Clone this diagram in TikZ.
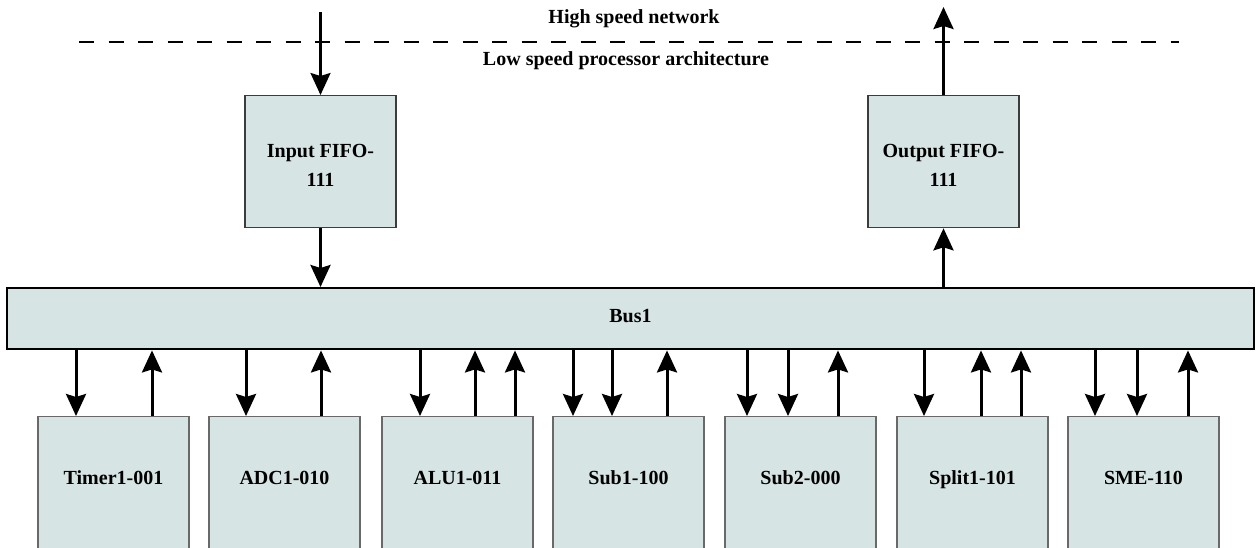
\documentclass[tikz,border=0pt]{standalone}
\usepackage{fontspec}
\setmainfont{Liberation Serif}
\usetikzlibrary{arrows.meta}
\definecolor{boxfill}{RGB}{214,228,228}
\definecolor{boxline}{RGB}{105,105,105}
\definecolor{fifoline}{RGB}{60,60,60}
\begin{document}
\begin{tikzpicture}[x=1pt,y=-1pt,
  font=\fontsize{20}{29}\selectfont\bfseries,
  unitbox/.style={draw=boxline, line width=1.2pt, fill=boxfill, minimum width=151pt,
    inner xsep=0pt, inner ysep=0pt, anchor=north, text height=68pt, text depth=110pt},
  fifobox/.style={draw=fifoline, line width=1.3pt, fill=boxfill, minimum width=151pt,
    inner xsep=0pt, inner ysep=0pt, anchor=north, align=center, text height=91pt, text depth=41pt},
  busbox/.style={draw=black, line width=2.4pt, fill=boxfill, minimum width=1247pt,
    inner xsep=0pt, inner ysep=0pt, anchor=north, text height=34pt, text depth=27pt},
  arr/.style={line width=3pt, -{Stealth[length=22pt,width=20pt,inset=3pt]}},
  title/.style={anchor=base, inner sep=0pt}
]
\path[use as bounding box] (0,0) rectangle (1258,547);
\begin{scope}
\clip (0,0) rectangle (1258,547);

% titles and divider
\node[title] (hs) at (634,23) {High speed network};
\node[title] (ls) at (626,65) {Low speed processor architecture};
\coordinate (dl) at (79,42);
\coordinate (dr) at (1179,42);
\draw[dash pattern=on 15pt off 14.5pt, line width=1.2pt] (dl) -- (dr);

% FIFOs
\node[fifobox] (in) at (320.5,95) {Input FIFO-\\111};
\node[fifobox] (out) at (943.5,95) {Output FIFO-\\111};

% bus
\node[busbox] (bus) at (630.5,287) {Bus1};

% units
\node[unitbox] (timer) at (113.5,416) {Timer1-001};
\node[unitbox] (adc)   at (284.5,416) {ADC1-010};
\node[unitbox] (alu)   at (457.5,416) {ALU1-011};
\node[unitbox] (sub1)  at (628.5,416) {Sub1-100};
\node[unitbox] (sub2)  at (800.5,416) {Sub2-000};
\node[unitbox] (split) at (972.5,416) {Split1-101};
\node[unitbox] (sme)   at (1143.5,416) {SME-110};

% network connections
\coordinate (netin) at (320.5,12);
\coordinate (netout) at (943.5,7);
\draw[arr, line width=2.4pt] (netin) -- (in.north);
\draw[arr] (out.north) -- (netout);
\draw[arr] (in.south) -- (bus.north -| in.south);
\draw[arr] (bus.north -| out.south) -- (out.south);

% bus <-> units
\draw[arr] (bus.south -| 76,0) -- (timer.north -| 76,0);
\draw[arr] (timer.north -| 152,0) -- (bus.south -| 152,0);

\draw[arr] (bus.south -| 246,0) -- (adc.north -| 246,0);
\draw[arr] (adc.north -| 321,0) -- (bus.south -| 321,0);

\draw[arr] (bus.south -| 420,0) -- (alu.north -| 420,0);
\draw[arr] (alu.north -| 475,0) -- (bus.south -| 475,0);
\draw[arr] (alu.north -| 515,0) -- (bus.south -| 515,0);

\draw[arr] (bus.south -| 573,0) -- (sub1.north -| 573,0);
\draw[arr] (bus.south -| 612,0) -- (sub1.north -| 612,0);
\draw[arr] (sub1.north -| 667,0) -- (bus.south -| 667,0);

\draw[arr] (bus.south -| 747,0) -- (sub2.north -| 747,0);
\draw[arr] (bus.south -| 788,0) -- (sub2.north -| 788,0);
\draw[arr] (sub2.north -| 838,0) -- (bus.south -| 838,0);

\draw[arr] (bus.south -| 924,0) -- (split.north -| 924,0);
\draw[arr] (split.north -| 981,0) -- (bus.south -| 981,0);
\draw[arr] (split.north -| 1021,0) -- (bus.south -| 1021,0);

\draw[arr] (bus.south -| 1095,0) -- (sme.north -| 1095,0);
\draw[arr] (bus.south -| 1137,0) -- (sme.north -| 1137,0);
\draw[arr] (sme.north -| 1188,0) -- (bus.south -| 1188,0);
\end{scope}
\end{tikzpicture}
\end{document}
